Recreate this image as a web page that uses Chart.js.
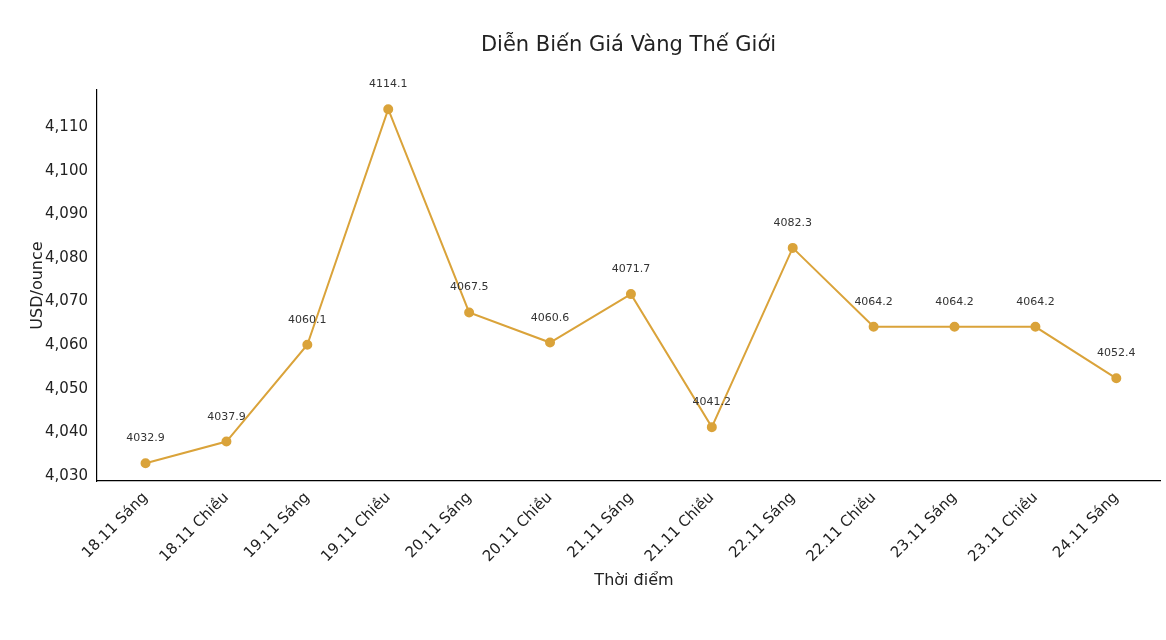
<!DOCTYPE html>
<html>
<head>
<meta charset="utf-8">
<script src="https://cdn.jsdelivr.net/npm/chart.js@4.4.0/dist/chart.umd.min.js"></script>
<style>
  html, body { margin: 0; padding: 0; background: #fff; }
  #wrap { width: 1166px; height: 640px; }
</style>
</head>
<body>
<div id="wrap"><canvas id="goldChart"></canvas></div>
<script>
const categories = ['18.11 Sáng', '18.11 Chiều', '19.11 Sáng', '19.11 Chiều', '20.11 Sáng', '20.11 Chiều',
    '21.11 Sáng', '21.11 Chiều', '22.11 Sáng', '22.11 Chiều', '23.11 Sáng', '23.11 Chiều', '24.11 Sáng'];
const prices = [4032.9, 4037.9, 4060.1, 4114.1, 4067.5, 4060.6, 4071.7, 4041.2, 4082.3, 4064.2, 4064.2, 4064.2, 4052.4];
const yTicks = [4030, 4040, 4050, 4060, 4070, 4080, 4090, 4100, 4110];

const FONT = '"DejaVu Sans", sans-serif';
const lineColor = '#DAA33A';

// titles and value labels drawn by hand, matplotlib style
const annotate = {
    id: 'annotate',
    afterDatasetsDraw(chart) {
        const c = chart.ctx;
        const area = chart.chartArea;
        c.save();
        c.fillStyle = '#333';
        c.font = '11px ' + FONT;
        c.textAlign = 'center';
        c.textBaseline = 'alphabetic';
        chart.getDatasetMeta(0).data.forEach((pt, i) => {
            c.fillText(prices[i].toFixed(1), pt.x, pt.y - 22);
        });
        c.fillStyle = '#222';
        c.font = '21px ' + FONT;
        c.fillText('Diễn Biến Giá Vàng Thế Giới', (area.left + area.right) / 2 - 0, 51);
        c.font = '16px ' + FONT;
        c.fillText('Thời điểm', 634, 585);
        c.translate(42, (area.top + area.bottom) / 2);
        c.rotate(-Math.PI / 2);
        c.fillText('USD/ounce', 0, 0);
        c.restore();
    }
};

new Chart(document.getElementById('goldChart'), {
    type: 'line',
    data: {
        datasets: [{
            data: prices.map((v, i) => ({ x: i, y: v })),
            borderColor: lineColor,
            backgroundColor: lineColor,
            borderWidth: 2,
            pointRadius: 4,
            pointHoverRadius: 4,
            tension: 0
        }]
    },
    options: {
        responsive: true,
        maintainAspectRatio: false,
        animation: false,
        layout: { padding: { top: 90, right: 0, left: 0, bottom: 0 } },
        plugins: { legend: { display: false }, tooltip: { enabled: false } },
        scales: {
            x: {
                type: 'linear',
                min: -0.6,
                max: 12.54,
                afterFit(s) { s.height = 159; },
                afterBuildTicks(s) { s.ticks = categories.map((_, i) => ({ value: i })); },
                grid: { display: false, drawTicks: true, tickLength: 5, color: '#000' },
                border: { color: '#000', width: 1.2 },
                ticks: {
                    color: '#222',
                    font: { family: FONT, size: 15 },
                    maxRotation: 45, minRotation: 45,
                    autoSkip: false,
                    callback: v => categories[v]
                }
            },
            y: {
                min: 4028.85,
                max: 4118.5,
                afterFit(s) { s.width = 97; },
                afterBuildTicks(s) { s.ticks = yTicks.map(v => ({ value: v })); },
                grid: { display: false, tickLength: 5 },
                border: { color: '#000', width: 1.2 },
                ticks: { color: '#222', font: { family: FONT, size: 15 }, padding: 4 }
            }
        }
    },
    plugins: [annotate]
});
</script>
</body>
</html>
